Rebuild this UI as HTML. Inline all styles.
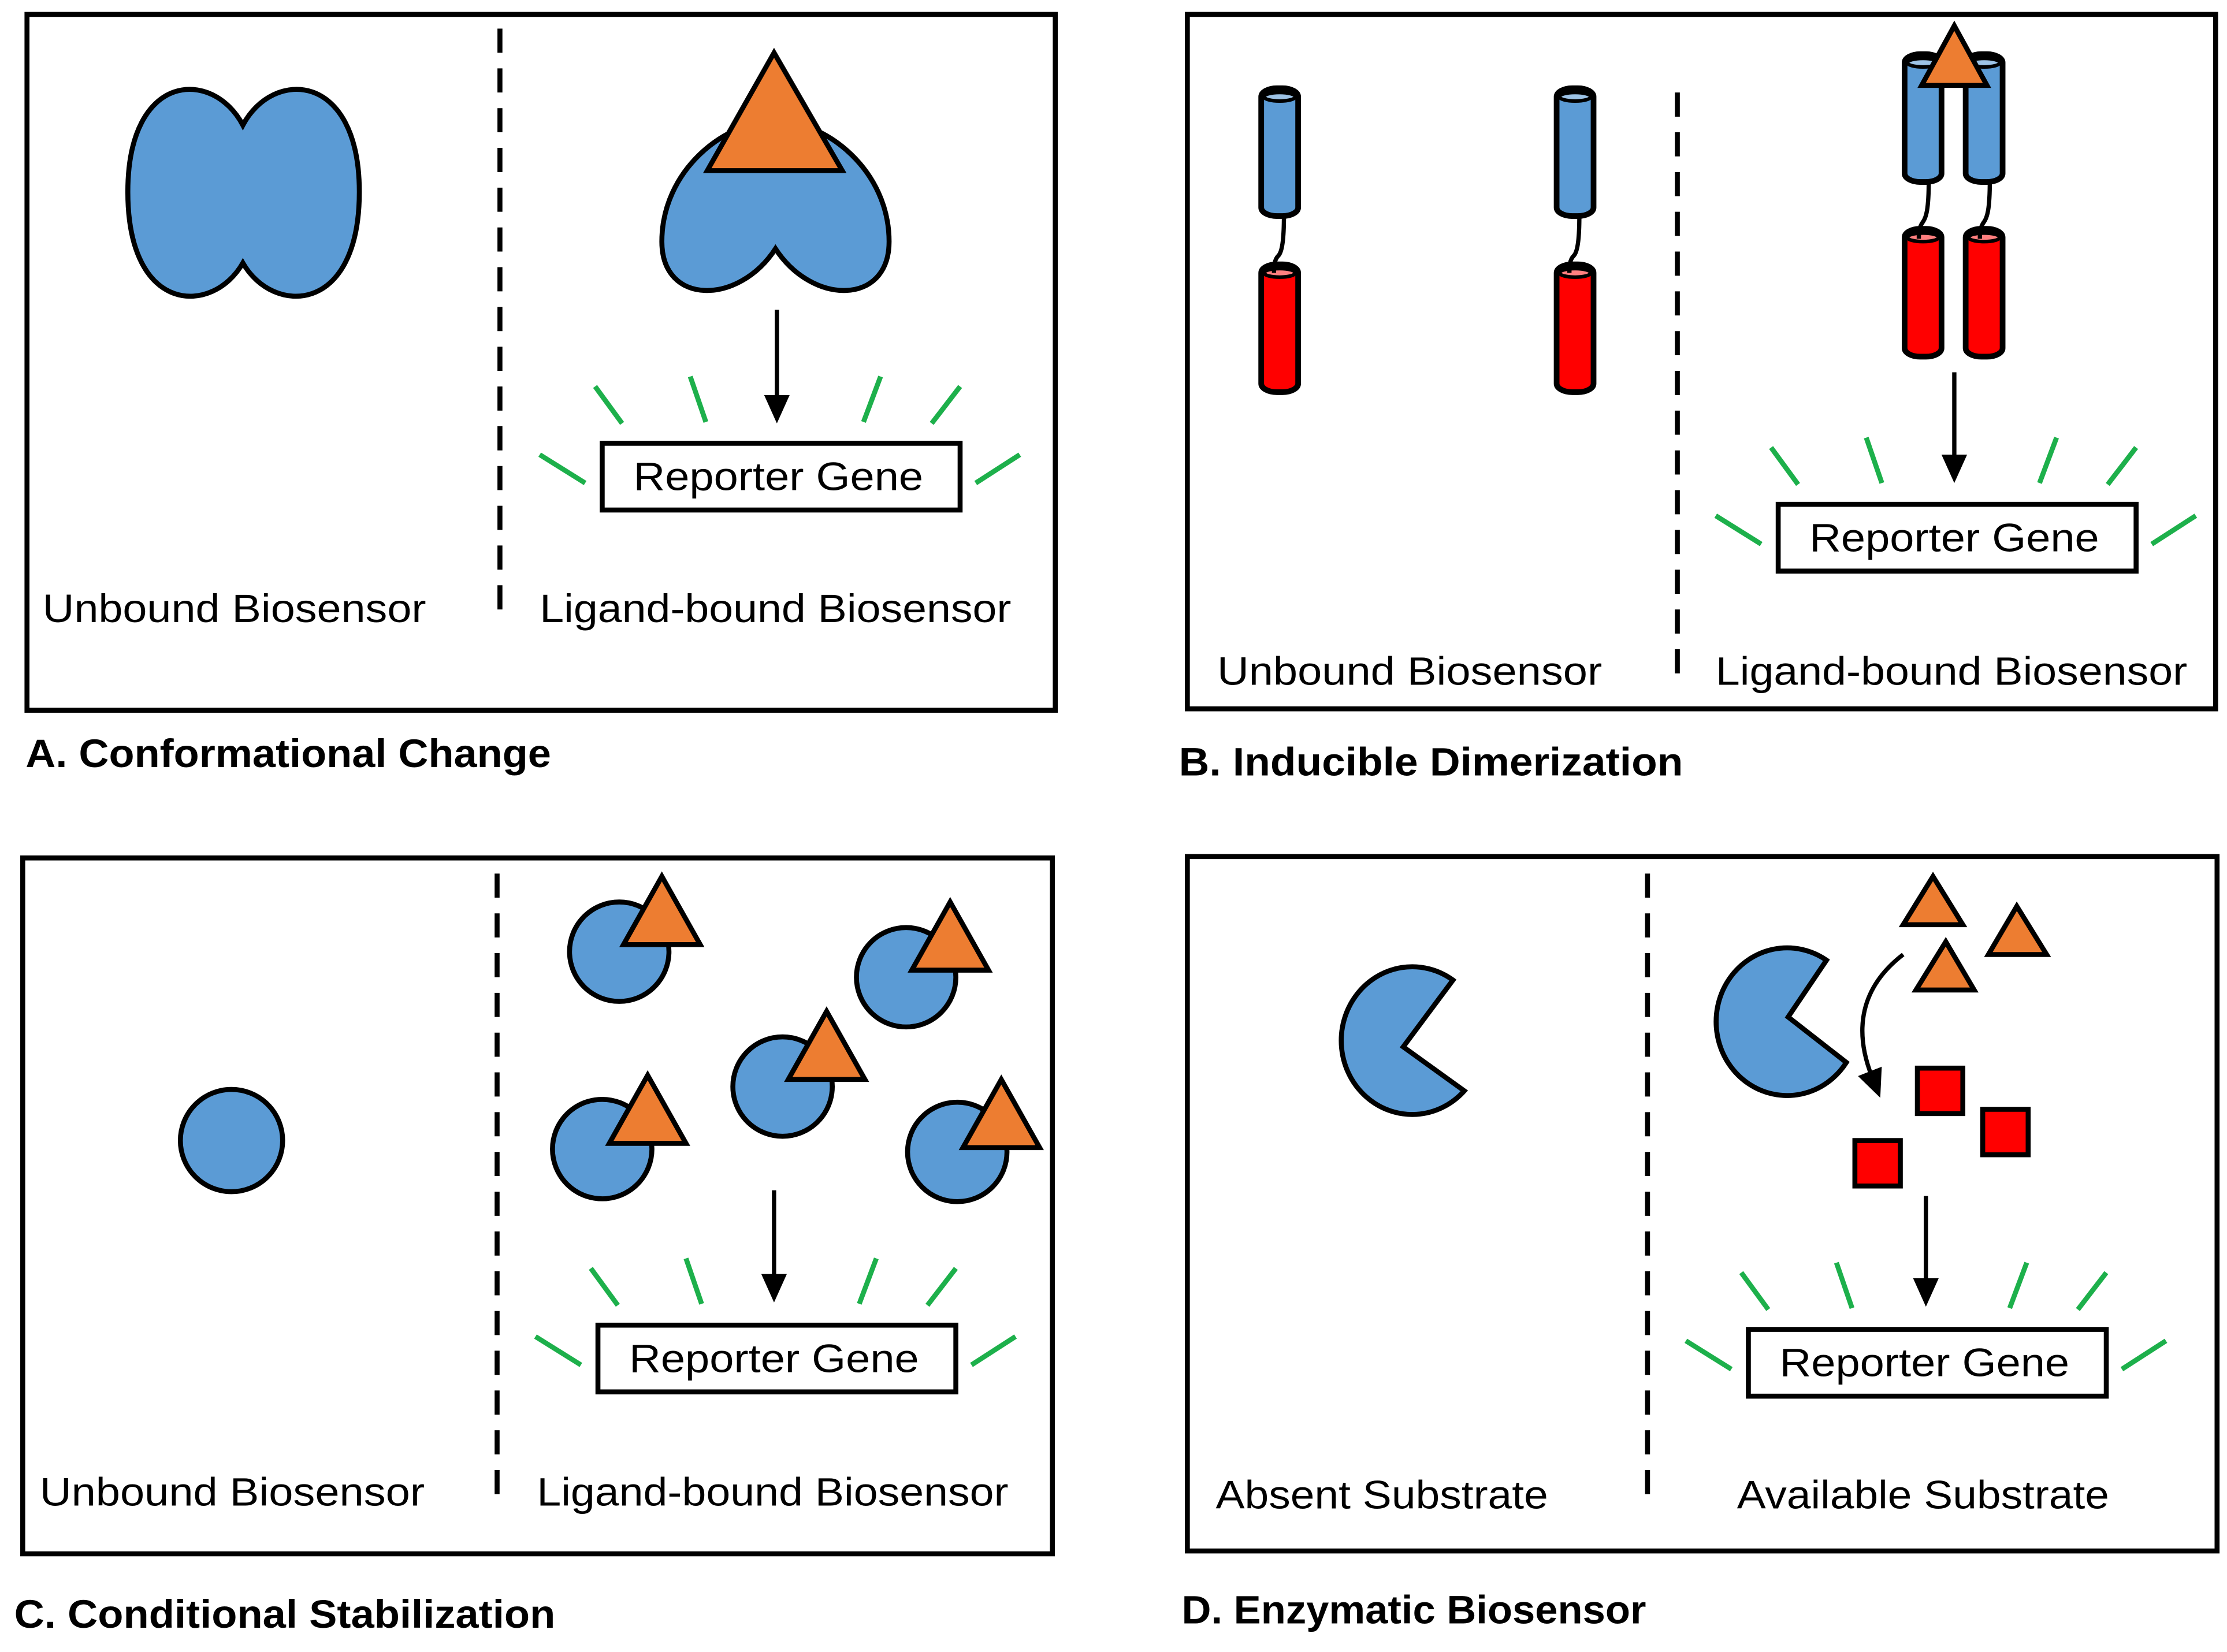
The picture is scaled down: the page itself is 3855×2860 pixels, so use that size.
<!DOCTYPE html>
<html><head><meta charset="utf-8"><style>html,body{margin:0;padding:0;background:#fff}svg{display:block}</style></head>
<body>
<svg xmlns="http://www.w3.org/2000/svg" width="3855" height="2860" viewBox="0 0 1568 1163">
<defs>
<marker id="ah" markerWidth="20" markerHeight="20" refX="4" refY="10" orient="auto" markerUnits="userSpaceOnUse" viewBox="0 0 20 20"><path d="M0,1 L20,10 L0,19 Z" fill="#000"/></marker>
<g id="green" stroke="#1db04b" stroke-width="3.5" fill="none">
<line x1="380" y1="320" x2="412" y2="340"/><line x1="419" y1="272" x2="438" y2="298"/>
<line x1="486" y1="265" x2="497" y2="297"/><line x1="620" y1="265" x2="608" y2="297"/>
<line x1="676" y1="272" x2="656" y2="298"/><line x1="718" y1="320" x2="687" y2="340"/>
</g>
<g id="rep"><rect x="424" y="312" width="252" height="47" fill="#fff" stroke="#000" stroke-width="3.5"/>
<text x="548" y="345" font-size="28" text-anchor="middle" textLength="204" lengthAdjust="spacingAndGlyphs">Reporter Gene</text></g>
<g id="cylB" stroke="#000" stroke-width="4"><rect x="0" y="0" width="26" height="90" rx="11" ry="6" fill="#5b9bd5"/><ellipse cx="13" cy="6" rx="11" ry="3" fill="#9dc3e6" stroke-width="2.5"/></g>
<g id="cylR" stroke="#000" stroke-width="4"><rect x="0" y="0" width="26" height="90" rx="11" ry="6" fill="#ff0000"/><ellipse cx="13" cy="6" rx="11" ry="3" fill="#ff7f7f" stroke-width="2.5"/></g>
<path id="tri" d="M0,-24 L27,24 L-27,24 Z" fill="#ed7d31" stroke="#000" stroke-width="3.5"/>
</defs>
<g font-family="'Liberation Sans', sans-serif" fill="#000">
<!-- Panel A -->
<rect x="19" y="10" width="724" height="490" fill="none" stroke="#000" stroke-width="3.5"/>
<line x1="352" y1="20" x2="352" y2="440" stroke="#000" stroke-width="3.5" stroke-dasharray="17,11"/>
<path d="M171,88 C150,48 90,50 90,135 C90,222 150,222 171,185 C192,222 253,222 253,135 C253,50 192,48 171,88 Z" fill="#5b9bd5" stroke="#000" stroke-width="3.5"/>
<path d="M546,175 C520,215 466,215 466,170 C466,120 510,85 546,85 C582,85 626,120 626,170 C626,215 572,215 546,175 Z" fill="#5b9bd5" stroke="#000" stroke-width="3.5"/>
<path d="M545,37 L498,120 L593,120 Z" fill="#ed7d31" stroke="#000" stroke-width="3.5"/>
<line x1="547" y1="218" x2="547" y2="282" stroke="#000" stroke-width="3" marker-end="url(#ah)"/>
<use href="#green"/><use href="#rep"/>
<text x="30" y="438" font-size="28" textLength="270" lengthAdjust="spacingAndGlyphs">Unbound Biosensor</text>
<text x="380" y="438" font-size="28" textLength="332" lengthAdjust="spacingAndGlyphs">Ligand-bound Biosensor</text>
<text x="18" y="540" font-size="28" font-weight="bold" textLength="370" lengthAdjust="spacingAndGlyphs">A. Conformational Change</text>

<!-- Panel B -->
<rect x="836" y="10" width="724" height="489" fill="none" stroke="#000" stroke-width="3.5"/>
<line x1="1181" y1="65" x2="1181" y2="482" stroke="#000" stroke-width="3.5" stroke-dasharray="17,11"/>
<use href="#cylB" x="888" y="62"/><use href="#cylR" x="888" y="186"/>
<path d="M904,152 C904,172 902,178 900,180 C897,183 897,188 897,192" fill="none" stroke="#000" stroke-width="3"/>
<use href="#cylB" x="1096" y="62"/><use href="#cylR" x="1096" y="186"/>
<path d="M1112,152 C1112,172 1110,178 1108,180 C1105,183 1105,188 1105,192" fill="none" stroke="#000" stroke-width="3"/>
<use href="#cylB" x="1341" y="38"/><use href="#cylR" x="1341" y="161"/>
<use href="#cylB" x="1384" y="38"/><use href="#cylR" x="1384" y="161"/>
<path d="M1358,127 C1358,148 1356,153 1354,156 C1351,160 1351,164 1351,168" fill="none" stroke="#000" stroke-width="3"/>
<path d="M1401,127 C1401,148 1399,153 1397,156 C1394,160 1394,164 1394,168" fill="none" stroke="#000" stroke-width="3"/>
<path d="M1376,18 L1353,60 L1399,60 Z" fill="#ed7d31" stroke="#000" stroke-width="3.5"/>
<line x1="1376" y1="262" x2="1376" y2="324" stroke="#000" stroke-width="3" marker-end="url(#ah)"/>
<g transform="translate(828,43)"><use href="#green"/><use href="#rep"/></g>
<text x="857" y="482" font-size="28" textLength="271" lengthAdjust="spacingAndGlyphs">Unbound Biosensor</text>
<text x="1208" y="482" font-size="28" textLength="332" lengthAdjust="spacingAndGlyphs">Ligand-bound Biosensor</text>
<text x="830" y="546" font-size="28" font-weight="bold" textLength="355" lengthAdjust="spacingAndGlyphs">B. Inducible Dimerization</text>

<!-- Panel C -->
<rect x="16" y="604" width="725" height="490" fill="none" stroke="#000" stroke-width="3.5"/>
<line x1="350" y1="615" x2="350" y2="1060" stroke="#000" stroke-width="3.5" stroke-dasharray="17,11"/>
<circle cx="163" cy="803" r="36" fill="#5b9bd5" stroke="#000" stroke-width="3.5"/>
<g fill="#5b9bd5" stroke="#000" stroke-width="3.5">
<circle cx="436" cy="670" r="35"/><circle cx="638" cy="688" r="35"/><circle cx="551" cy="765" r="35"/><circle cx="424" cy="809" r="35"/><circle cx="674" cy="811" r="35"/>
</g>
<use href="#tri" x="466" y="641"/><use href="#tri" x="669" y="659"/><use href="#tri" x="582" y="736"/><use href="#tri" x="456" y="781"/><use href="#tri" x="705" y="784"/>
<line x1="545" y1="838" x2="545" y2="901" stroke="#000" stroke-width="3" marker-end="url(#ah)"/>
<g transform="translate(-3,621)"><use href="#green"/><use href="#rep"/></g>
<text x="28" y="1060" font-size="28" textLength="271" lengthAdjust="spacingAndGlyphs">Unbound Biosensor</text>
<text x="378" y="1060" font-size="28" textLength="332" lengthAdjust="spacingAndGlyphs">Ligand-bound Biosensor</text>
<text x="10" y="1146" font-size="28" font-weight="bold" textLength="381" lengthAdjust="spacingAndGlyphs">C. Conditional Stabilization</text>

<!-- Panel D -->
<rect x="836" y="603" width="725" height="489" fill="none" stroke="#000" stroke-width="3.5"/>
<line x1="1160" y1="615" x2="1160" y2="1062" stroke="#000" stroke-width="3.5" stroke-dasharray="17,11"/>
<path d="M988,737 L1023,690 A50,52 0 1 0 1031,768 Z" fill="#5b9bd5" stroke="#000" stroke-width="3.5"/>
<path d="M1259,716 L1286,676 A50,52 0 1 0 1300,748 Z" fill="#5b9bd5" stroke="#000" stroke-width="3.5"/>
<path d="M1361,617 L1340,651 L1382,651 Z" fill="#ed7d31" stroke="#000" stroke-width="3.5"/>
<path d="M1420,638 L1400,672 L1441,672 Z" fill="#ed7d31" stroke="#000" stroke-width="3.5"/>
<path d="M1370,663 L1349,697 L1390,697 Z" fill="#ed7d31" stroke="#000" stroke-width="3.5"/>
<path d="M1340,672 C1310,695 1305,725 1318,758" fill="none" stroke="#000" stroke-width="3" marker-end="url(#ah)"/>
<g fill="#ff0000" stroke="#000" stroke-width="3.5">
<rect x="1350" y="752" width="32" height="32"/><rect x="1396" y="781" width="32" height="32"/><rect x="1306" y="803" width="32" height="32"/>
</g>
<line x1="1356" y1="842" x2="1356" y2="904" stroke="#000" stroke-width="3" marker-end="url(#ah)"/>
<g transform="translate(807,624)"><use href="#green"/><use href="#rep"/></g>
<text x="856" y="1062" font-size="28" textLength="234" lengthAdjust="spacingAndGlyphs">Absent Substrate</text>
<text x="1223" y="1062" font-size="28" textLength="262" lengthAdjust="spacingAndGlyphs">Available Substrate</text>
<text x="832" y="1143" font-size="28" font-weight="bold" textLength="327" lengthAdjust="spacingAndGlyphs">D. Enzymatic Biosensor</text>
</g>
</svg>
</body></html>
